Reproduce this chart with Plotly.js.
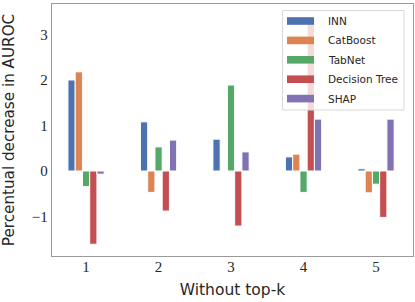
<!DOCTYPE html>
<html>
<head>
<meta charset="utf-8">
<script src="https://cdn.plot.ly/plotly-3.0.1.min.js"></script>
<style>html,body{margin:0;padding:0;background:#fff;}#chart{width:415px;height:302px;}</style>
</head>
<body>
<div id="chart"></div>
<script>
// ---- data ----
var categories = [1, 2, 3, 4, 5];
var seriesNames = ["INN", "CatBoost", "TabNet", "Decision Tree", "SHAP"];
var innValues      = [2.00, 1.08, 0.70, 0.31, 0.05];
var catboostValues = [2.18, -0.47, 0.00, 0.37, -0.48];
var tabnetValues   = [-0.34, 0.53, 1.89, -0.47, -0.29];
var dtreeValues    = [-1.61, -0.88, -1.21, 3.28, -1.02];
var shapValues     = [-0.07, 0.68, 0.42, 1.14, 1.14];
var yTickValues = [-1, 0, 1, 2, 3];
var yTickLabels = ["\u22121", "0", "1", "2", "3"];
var xTickLabels = ["1", "2", "3", "4", "5"];

var seriesValues = [innValues, catboostValues, tabnetValues, dtreeValues, shapValues];
var colors = ["#4C72B0", "#DD8452", "#55A868", "#C44E52", "#8172B3"];

// plot area in pixels
var W = 415, H = 302;
var L = 52, R = 2, T = 4, B = 46;
var plotW = W - L - R, plotH = H - T - B;
function px(x) { return (x - L) / plotW; }
function py(y) { return (H - B - y) / plotH; }

var traces = seriesNames.map(function (name, i) {
  return {
    type: "bar",
    name: name,
    x: categories,
    y: seriesValues[i],
    marker: { color: colors[i], line: { color: "#ffffff", width: 1 } },
    showlegend: false,
    hoverinfo: "x+y+name"
  };
});

// custom legend (matplotlib style)
var shapes = [{
  type: "rect", xref: "paper", yref: "paper", layer: "above",
  x0: px(282.5), x1: px(404), y0: py(110), y1: py(10.5),
  line: { color: "#d9d9d9", width: 1 },
  fillcolor: "rgba(255,255,255,0.8)"
}];
var annotations = [];
var rowY0 = 21, rowStep = 19.4;
seriesNames.forEach(function (name, i) {
  var cy = rowY0 + i * rowStep;
  shapes.push({
    type: "rect", xref: "paper", yref: "paper", layer: "above",
    x0: px(287), x1: px(314), y0: py(cy + 3.8), y1: py(cy - 3.8),
    line: { width: 0 }, fillcolor: colors[i]
  });
  annotations.push({
    xref: "paper", yref: "paper", x: px(326), y: py(cy),
    xanchor: "left", yanchor: "middle", showarrow: false,
    text: name,
    font: { family: "DejaVu Sans", size: 10.5, color: "#262626" }
  });
});

var layout = {
  width: W, height: H,
  margin: { l: L, r: R, t: T, b: B, pad: 0 },
  paper_bgcolor: "#ffffff", plot_bgcolor: "#ffffff",
  barmode: "group", bargap: 0.5, bargroupgap: 0,
  showlegend: false,
  xaxis: {
    range: [0.53, 5.51],
    tickvals: categories, ticktext: xTickLabels,
    ticks: "", showgrid: false, zeroline: false,
    showline: true, mirror: true, linecolor: "#9a9a9a", linewidth: 1.2,
    ticklabelstandoff: -3,
    tickfont: { family: "Liberation Serif", size: 15, color: "#262626" },
    title: { text: "Without top-k", standoff: 10,
             font: { family: "DejaVu Sans", size: 15.5, color: "#262626" } },
    automargin: false, fixedrange: true
  },
  yaxis: {
    range: [-1.868, 3.67],
    tickvals: yTickValues, ticktext: yTickLabels,
    ticks: "", showgrid: false, zeroline: false,
    showline: true, mirror: true, linecolor: "#9a9a9a", linewidth: 1.2,
    tickfont: { family: "Liberation Serif", size: 15, color: "#262626" },
    title: { text: "Percentual decrease in AUROC", standoff: 13,
             font: { family: "DejaVu Sans", size: 15.2, color: "#262626" } },
    automargin: false, fixedrange: true
  },
  shapes: shapes,
  annotations: annotations
};

Plotly.newPlot("chart", traces, layout, { displayModeBar: false, staticPlot: true });
</script>
</body>
</html>
